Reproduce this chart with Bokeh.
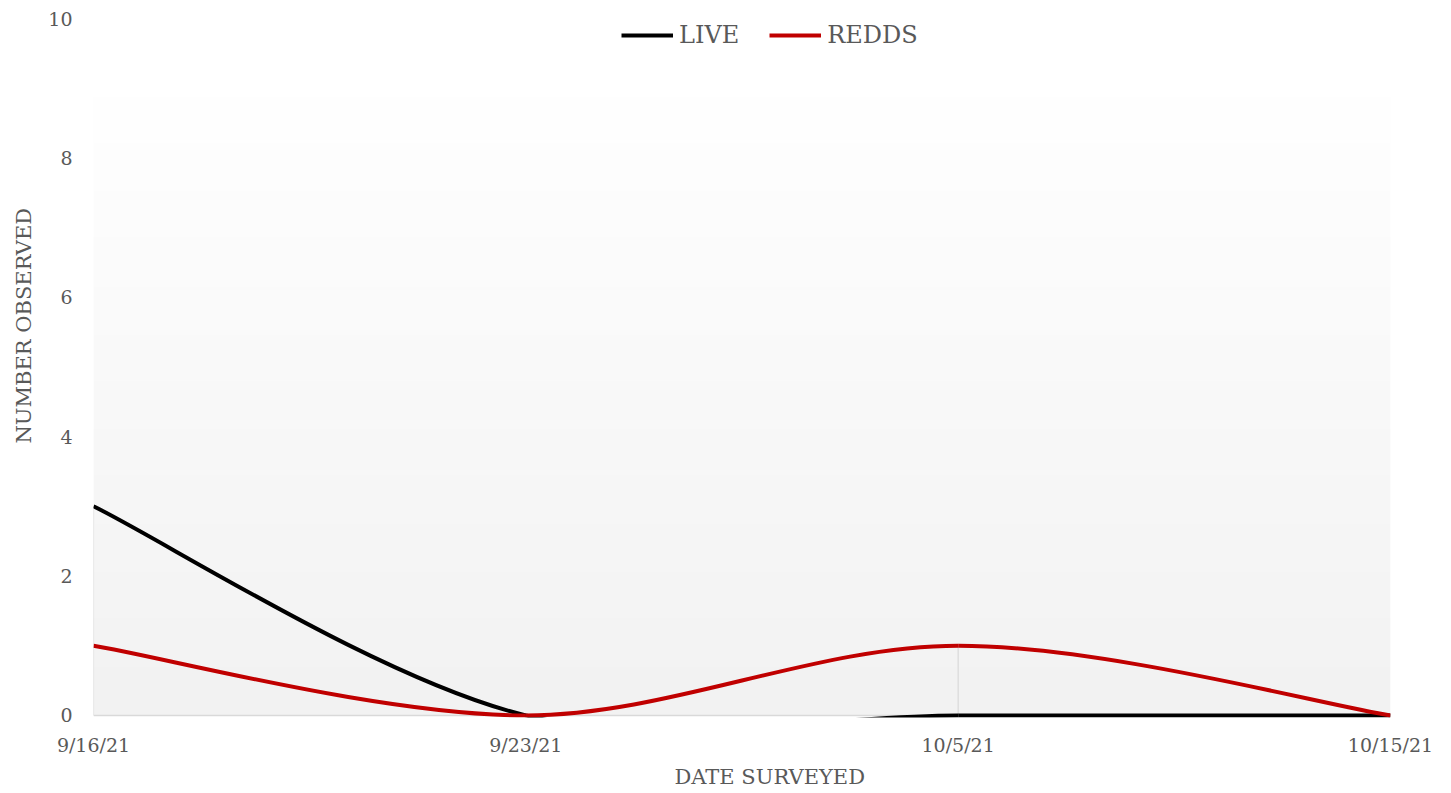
import numpy as np
from bokeh.plotting import figure
from bokeh.models import Range1d, FixedTicker, Legend, LegendItem, ColumnDataSource, Title
from bokeh.embed import file_html
from bokeh.resources import INLINE

# ---- data ----
dates = ["9/16/21", "9/23/21", "10/5/21", "10/15/21"]
live = [3, 0, 0, 0]
redds = [1, 0, 1, 0]
y_ticks = [0, 2, 4, 6, 8, 10]
x_title = "DATE SURVEYED"
y_title = "NUMBER OBSERVED"

FONT = "DejaVu Serif"
TEXT = "#595959"
GRID = "#d9d9d9"

xs = list(range(len(dates)))


def smooth_segments(xv, yv, t=1 / 6):
    """Cubic Bezier control points (Catmull-Rom style) for a smoothed line."""
    n = len(xv)
    d = {k: [] for k in ("x0", "y0", "x1", "y1", "cx0", "cy0", "cx1", "cy1")}
    for i in range(n - 1):
        pm = max(i - 1, 0)
        pp = min(i + 2, n - 1)
        d["x0"].append(xv[i]); d["y0"].append(yv[i])
        d["x1"].append(xv[i + 1]); d["y1"].append(yv[i + 1])
        d["cx0"].append(xv[i] + (xv[i + 1] - xv[pm]) * t)
        d["cy0"].append(yv[i] + (yv[i + 1] - yv[pm]) * t)
        d["cx1"].append(xv[i + 1] - (xv[pp] - xv[i]) * t)
        d["cy1"].append(yv[i + 1] - (yv[pp] - yv[i]) * t)
    return ColumnDataSource(d)


p = figure(frame_width=1297, frame_height=699,
           x_range=Range1d(0, len(dates) - 1), y_range=Range1d(-0.03, 10),
           output_backend="svg", toolbar_location=None,
           min_border_left=92, min_border_right=54,
           min_border_top=18, min_border_bottom=70)
p.xgrid.visible = False
p.ygrid.visible = False
p.outline_line_color = None
p.background_fill_color = "white"
p.border_fill_color = "white"

# plot-area gradient background
N = 256
img = np.empty((N, 1), dtype=np.uint32)
view = img.view(dtype=np.uint8).reshape((N, 1, 4))
frac = np.linspace(0, 1, N)
g = np.clip(242 + (255 - 242) * frac, 0, 255).astype(np.uint8)
view[:, 0, 0] = g
view[:, 0, 1] = g
view[:, 0, 2] = g
view[:, 0, 3] = 255
p.image_rgba(image=[img], x=0, y=0, dw=len(dates) - 1, dh=8.89)

# drop lines
tops = [max(a, b) for a, b in zip(live, redds)]
p.segment(x0=xs, y0=[0] * len(xs), x1=xs, y1=tops, line_color=GRID, line_width=1.2)
# category axis line
p.segment(x0=[xs[0]], y0=[0], x1=[xs[-1]], y1=[0], line_color=GRID, line_width=1.5)

r_live = p.bezier(x0="x0", y0="y0", x1="x1", y1="y1", cx0="cx0", cy0="cy0",
                  cx1="cx1", cy1="cy1", source=smooth_segments(xs, live),
                  line_color="#000000", line_width=4)
r_redds = p.bezier(x0="x0", y0="y0", x1="x1", y1="y1", cx0="cx0", cy0="cy0",
                   cx1="cx1", cy1="cy1", source=smooth_segments(xs, redds),
                   line_color="#c00000", line_width=4)

# axes
p.xaxis.ticker = FixedTicker(ticks=xs)
p.xaxis.major_label_overrides = {i: d for i, d in enumerate(dates)}
p.yaxis.ticker = FixedTicker(ticks=y_ticks)
for ax in (p.xaxis, p.yaxis):
    ax.axis_line_color = None
    ax.major_tick_line_color = None
    ax.minor_tick_line_color = None
    ax.major_label_text_font = FONT
    ax.major_label_text_font_size = "19px"
    ax.major_label_text_color = TEXT
p.xaxis.major_label_standoff = 10
p.yaxis.major_label_standoff = 15

# axis titles (offset from the frame like the original)
p.add_layout(Title(text=x_title, align="left", offset=581, standoff=9,
                   text_font=FONT, text_font_size="21px", text_color=TEXT,
                   text_font_style="normal"), "below")
p.add_layout(Title(text=y_title, align="left", offset=274, standoff=19,
                   text_font=FONT, text_font_size="21px", text_color=TEXT,
                   text_font_style="normal"), "left")

legend = Legend(items=[LegendItem(label="LIVE", renderers=[r_live]),
                       LegendItem(label="REDDS", renderers=[r_redds])],
                location=(528, 668), orientation="horizontal",
                background_fill_alpha=0, border_line_color=None,
                label_text_font=FONT, label_text_font_size="24px",
                label_text_color=TEXT, glyph_width=52, label_standoff=6,
                spacing=30, padding=0, margin=0)
p.add_layout(legend)

open("out.html", "w").write(file_html(p, INLINE))
